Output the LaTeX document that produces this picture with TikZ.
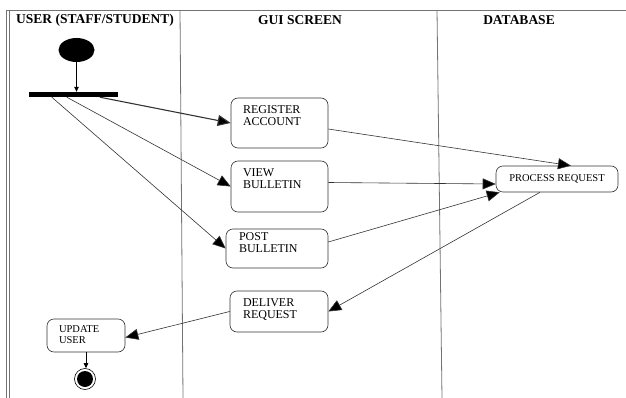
\documentclass[tikz,border=0pt]{standalone}
\usepackage{fontspec}
\setmainfont{Liberation Serif}
\usetikzlibrary{arrows.meta,shapes.geometric}

\tikzset{
  lane/.style={draw=black!55, line width=0.8pt},
  lanehead/.style={font=\bfseries\fontsize{13.5}{15}\selectfont},
  act/.style={draw=black!80, rounded corners=7pt, inner sep=0pt, line width=0.6pt,
    font=\fontsize{12}{12}\selectfont},
  smallact/.style={act, font=\fontsize{10.5}{10.5}\selectfont},
  flow/.style={draw=black!80, line width=0.6pt, -{Triangle[length=13pt,width=11pt,fill=black]}},
  tinyflow/.style={draw=black, line width=0.6pt, -{Triangle[length=5pt,width=4.5pt]}}
}

% width, height, left pad, top pad, text
\newcommand{\acttext}[5]{\parbox[c][#2][t]{#1}{\vspace*{#4}\leftskip=#3\relax #5}}

\begin{document}
\begin{tikzpicture}[x=1pt, y=-1pt]
    \useasboundingbox (0,0) rectangle (626,398);
    % swimlanes
    \draw[lane] (6,10) -- (626,10);
    \draw[lane] (6,10) -- (6,398);
    \draw[lane] (9,10) -- (9,398);
    \draw[lane] (180,10) -- (183,398);
    \draw[lane] (437,10) -- (442,398);
    \node[lanehead] (user) at (95,20) {USER (STAFF/STUDENT)};
    \node[lanehead] (gui) at (300,20) {GUI SCREEN};
    \node[lanehead] (db) at (519,20) {DATABASE};

    % start and fork
    \node[ellipse, fill, minimum width=36pt, minimum height=24pt, inner sep=0pt] (start) at (76.5,50) {};
    \node[fill, minimum width=89pt, minimum height=5pt, inner sep=0pt] (fork) at (73.5,94.5) {};

    % activities
    \node[act] (reg) at (279.5,123) {\acttext{97pt}{50pt}{12pt}{8pt}{REGISTER\\ACCOUNT}};
    \node[act] (view) at (279.5,186.5) {\acttext{97pt}{51pt}{12pt}{8pt}{VIEW\\BULLETIN}};
    \node[act] (post) at (277,248.5) {\acttext{102pt}{39pt}{13pt}{4pt}{POST\\BULLETIN}};
    \node[act] (deliver) at (279,311.5) {\acttext{98pt}{41pt}{13pt}{8pt}{DELIVER\\REQUEST}};
    \node[smallact] (update) at (86,335.5) {\acttext{78pt}{33pt}{12pt}{7pt}{UPDATE\\USER}};
    \node[smallact, minimum width=122pt, minimum height=26pt] (proc) at (557,179) {PROCESS REQUEST};

    % end
    \node[circle, draw, line width=0.6pt, minimum size=21pt, inner sep=0pt] (stop) at (85,379) {};
    \node[circle, fill, minimum size=16pt, inner sep=0pt] (stopdot) at (stop) {};

    % flows
    \draw[tinyflow] (start.south) -- (start.south |- fork.north);
    \draw[flow, line width=1.1pt] ([xshift=71pt]fork.south west) -- (reg.west);
    \draw[flow] ([xshift=38pt]fork.south west) -- (view.west);
    \draw[flow] ([xshift=23pt]fork.south west) -- (post.west);
    \draw[flow] ([yshift=-6pt]reg.east) -- ([xshift=14pt]proc.north);
    \draw[flow] ([yshift=4pt]view.east) -- ([yshift=-5pt]proc.west);
    \draw[flow] ([yshift=6.5pt]post.east) -- ([xshift=4pt]proc.south west);
    \draw[flow] ([xshift=-17pt]proc.south) -- (deliver.east);
    \draw[flow] (deliver.west) -- ([yshift=-2pt]update.east);
    \draw[tinyflow] (update.south) -- (update.south |- stop.north);
\end{tikzpicture}
\end{document}
